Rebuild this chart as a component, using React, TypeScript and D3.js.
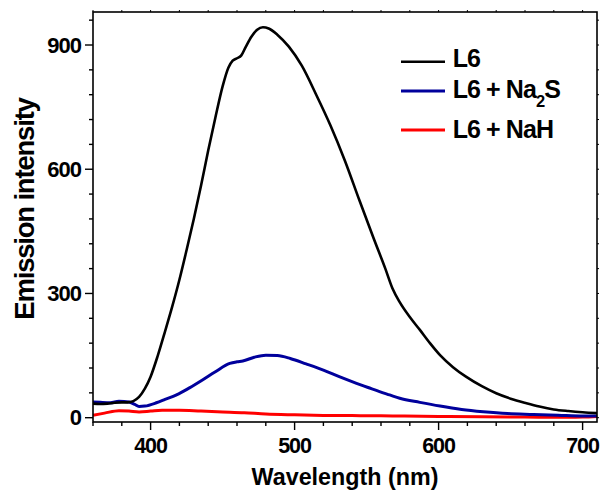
import React from "react";
import * as d3 from "d3";

const l6Nm = [360,365,370,375,380,384,388,392,396,400,405,410,415,420,425,430,435,440,445,450,454,457,460,463,466,470,474,478,482,488,496,505,515,525,535,545,555,563,568,573,580,587,594,601,610,619,630,640,650,661,670,680,690,700,710];
const l6Val = [34,33,34,36,37,37,40,50,70,99,150,208,268,333,405,480,560,645,725,800,845,862,868,875,895,920,937,943,940,925,896,850,780,705,620,525,432,360,312,279,243,212,180,151,122,99,76,59,46,35,27,20,16,13,11];

const na2sNm = [360,365,372,378,385,389,392,396,404,410,418,427,436,445,455,460,464,472,480,488,497,508,520,531,543,551,559,566,573,587,601,616,631,648,666,683,700,710];
const na2sVal = [38,37,36,40,38,32,27,28,36,44,55,72,91,111,131,135,137,146,151,150,143,130,115,99,83,73,63,55,47,37,28,20,14.5,10,8,6,4,4];

const nahNm = [360,368,378,385,392,400,408,420,435,450,465,480,500,520,540,560,573,600,630,660,690,700,710];
const nahVal = [6,11,17,16,14,16,18,18,16,14,12,9,7,5.5,5,4.5,4,3,2,1.5,1,1.5,3];

const xMajorTicks = [400, 500, 600, 700];
const yMajorTicks = [0, 300, 600, 900];

const seriesNames = ["L6", "L6 + NaH"];

export default function App() {
  const W = 604, H = 493;
  const left = 93, right = 597, top = 12, bottom = 422;
  const x = d3.scaleLinear().domain([360, 710]).range([left, right]);
  const y = d3.scaleLinear().domain([-10.4, 979.7]).range([bottom, top]);

  const line = d3.line<[number, number]>()
    .x(d => x(d[0]))
    .y(d => y(d[1]))
    .curve(d3.curveMonotoneX);

  const zip = (a: number[], b: number[]) => a.map((v, i) => [v, b[i]] as [number, number]);

  const xMinor = d3.range(360, 711, 20);
  const yMinor = d3.range(0, 961, 60);
  const font = "Arial, 'Liberation Sans', sans-serif";

  return (
    <svg width={W} height={H} style={{ position: "absolute", left: 0, top: 0, background: "#fff" }}>
      <defs>
        <clipPath id="plot">
          <rect x={left} y={top} width={right - left} height={bottom - top} />
        </clipPath>
      </defs>
      <g clipPath="url(#plot)" fill="none" strokeLinejoin="round">
        <path d={line(zip(nahNm, nahVal)) || ""} stroke="#ff0000" strokeWidth={3} />
        <path d={line(zip(na2sNm, na2sVal)) || ""} stroke="#00009c" strokeWidth={3} />
        <path d={line(zip(l6Nm, l6Val)) || ""} stroke="#000" strokeWidth={2.6} />
      </g>
      {/* frame */}
      <rect x={left} y={top} width={right - left} height={bottom - top} fill="none" stroke="#000" strokeWidth={1.6} />
      {/* x ticks */}
      {xMinor.map(v => {
        const major = xMajorTicks.includes(v);
        return (
          <g key={"x" + v}>
            <line x1={x(v)} x2={x(v)} y1={bottom} y2={bottom + (major ? 8 : 4)} stroke="#000" strokeWidth={1.4} />
            <line x1={x(v)} x2={x(v)} y1={top} y2={top - 2} stroke="#000" strokeWidth={1} />
          </g>
        );
      })}
      {yMinor.map(v => {
        const major = yMajorTicks.includes(v);
        return (
          <g key={"y" + v}>
            <line x1={left} x2={left - (major ? 8 : 4)} y1={y(v)} y2={y(v)} stroke="#000" strokeWidth={1.4} />
            <line x1={right} x2={right + 2} y1={y(v)} y2={y(v)} stroke="#000" strokeWidth={1} />
          </g>
        );
      })}
      {xMajorTicks.map(v => (
        <text key={"xl" + v} x={x(v)} y={452.5} textAnchor="middle" fontFamily={font} fontWeight="bold" fontSize={21.5} letterSpacing={-1}>
          {v}
        </text>
      ))}
      {yMajorTicks.map(v => (
        <text key={"yl" + v} x={81} y={y(v) + 7.8} textAnchor="end" fontFamily={font} fontWeight="bold" fontSize={22} letterSpacing={-1}>
          {v}
        </text>
      ))}
      <text x={345} y={485} textAnchor="middle" fontFamily={font} fontWeight="bold" fontSize={23.3} letterSpacing={0}>
        Wavelength (nm)
      </text>
      <text transform="translate(33.5,209) rotate(-90)" textAnchor="middle" fontFamily={font} fontWeight="bold" fontSize={27.5} letterSpacing={-1.2}>
        Emission intensity
      </text>
      {/* legend */}
      <line x1={401} x2={445} y1={61.7} y2={61.7} stroke="#000" strokeWidth={2.6} />
      <text x={452.7} y={67.3} fontFamily={font} fontWeight="bold" fontSize={25} letterSpacing={-0.9}>{seriesNames[0]}</text>
      <line x1={401} x2={445} y1={91} y2={91} stroke="#00009c" strokeWidth={3} />
      <text x={452.7} y={98.3} fontFamily={font} fontWeight="bold" fontSize={25} letterSpacing={-0.9}>
        L6 + Na<tspan fontSize={16.5} dy={8.5}>2</tspan><tspan dy={-8.5}>S</tspan>
      </text>
      <line x1={401} x2={445} y1={130} y2={130} stroke="#ff0000" strokeWidth={3} />
      <text x={452.7} y={138.3} fontFamily={font} fontWeight="bold" fontSize={25} letterSpacing={-0.9}>{seriesNames[1]}</text>
    </svg>
  );
}
